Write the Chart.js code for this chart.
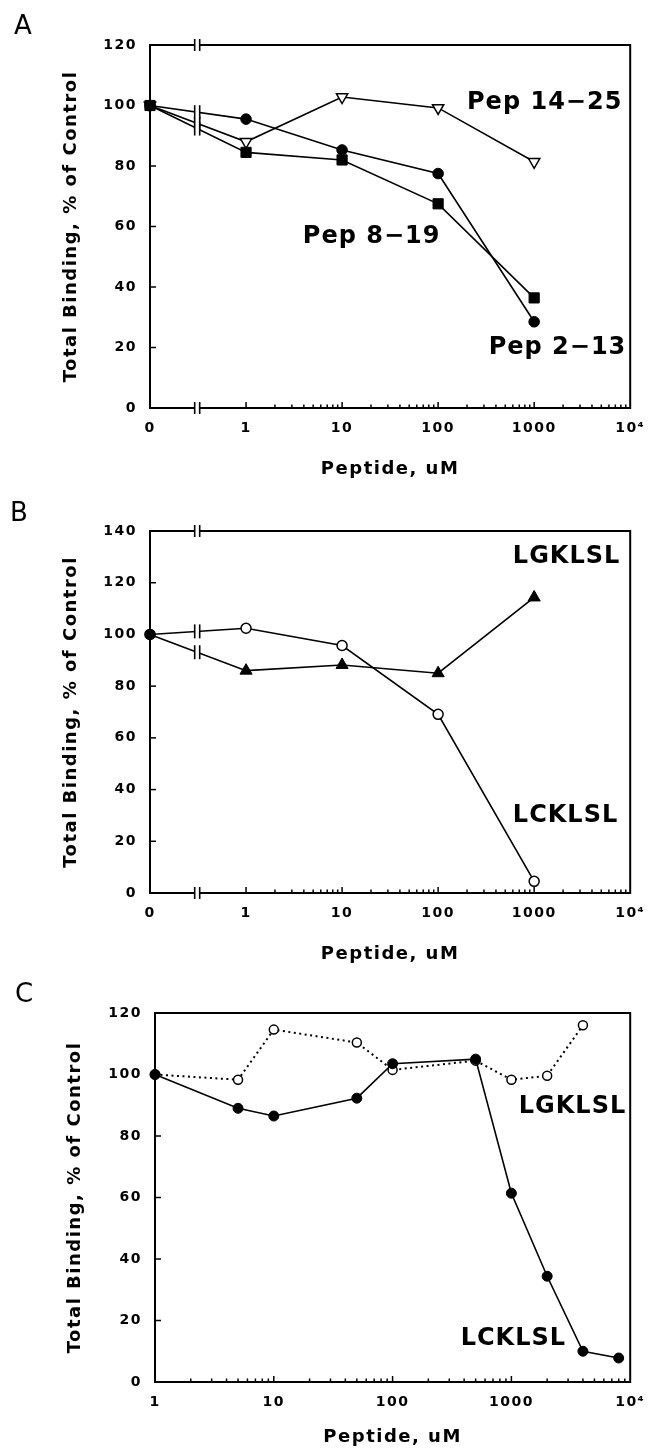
<!DOCTYPE html>
<html>
<head>
<meta charset="utf-8">
<script src="https://cdn.jsdelivr.net/npm/chart.js@4.4.1/dist/chart.umd.min.js"></script>
<style>
  html, body { margin: 0; padding: 0; background: #fff; }
  body { width: 655px; height: 1455px; position: relative; overflow: hidden; }
  .panel { position: absolute; left: 0; width: 655px; height: 485px; }
  #panelA { top: 0; }
  #panelB { top: 485px; }
  #panelC { top: 970px; }
</style>
</head>
<body>
<div class="panel" id="panelA"><canvas id="chartA"></canvas></div>
<div class="panel" id="panelB"><canvas id="chartB"></canvas></div>
<div class="panel" id="panelC"><canvas id="chartC"></canvas></div>
<script>
// --- datos ---
// Panel A / B: dosis (uM); el 0 se dibuja en el tramo cortado del eje log
const dosesAB = [0, 1, 10, 100, 1000];
const pep213 = [100, 95.5, 85.3, 77.5, 28.5];
const pep819 = [100, 84.5, 82, 67.5, 36.4];
const pep1425 = [100, 88, 102.8, 99.2, 81.4];

const lcklslB = [100, 102.4, 95.7, 69.1, 4.5];
const lgklslB = [100, 86, 88.2, 85, 114.3];

// Panel C
const dosesC = [1, 5, 10, 50, 100, 500, 1000, 2000, 4000, 8000];
const lcklslC = [100, 89, 86.5, 92.3, 103.5, 105, 61.4, 34.4, 10, 7.8];
const dosesLgC = [1, 5, 10, 50, 100, 500, 1000, 2000, 4000];
const lgklslC = [100, 98.3, 114.6, 110.4, 101.5, 104.5, 98.3, 99.6, 116];

// ticks
const xTicksAB = [0, 1, 10, 100, 1000, 10000];
const xTickLabelsAB = ['0', '1', '10', '100', '1000', '10⁴'];
const xTicksC = [1, 10, 100, 1000, 10000];
const xTickLabelsC = ['1', '10', '100', '1000', '10⁴'];

const ZERO_POS = 0.1;   // donde cae el "0" en el eje log
const BREAK_AT = 0.31;  // posicion de la marca de corte ||

const toX = d => (d === 0 ? ZERO_POS : d);
const pts = (xs, ys) => xs.map((d, i) => ({ x: toX(d), y: ys[i] }));

const tickFont = { family: '"DejaVu Sans"', size: 14, weight: 'bold' };
const titleFont = { family: '"DejaVu Sans"', size: 18, weight: 'bold', lineHeight: 1.2 };

function line(ctx, x1, y1, x2, y2) {
    ctx.beginPath();
    ctx.moveTo(x1, y1);
    ctx.lineTo(x2, y2);
    ctx.stroke();
}

// marca de corte "||" con hueco blanco en medio
function drawBreak(ctx, px, py, half) {
    ctx.fillStyle = '#fff';
    ctx.fillRect(px - 2.2, py - half, 4.4, half * 2);
    ctx.lineWidth = 1.6;
    line(ctx, px - 2.5, py - half, px - 2.5, py + half);
    line(ctx, px + 2.5, py - half, px + 2.5, py + half);
}

const framePlugin = {
    id: 'frame',
    beforeDraw(chart) {
        chart.ctx.letterSpacing = '1.5px';
    },
    beforeDatasetsDraw(chart, args, opts) {
        const { ctx, chartArea: a, scales: { x, y } } = chart;
        ctx.save();
        ctx.strokeStyle = '#000';
        ctx.lineWidth = 2;
        ctx.strokeRect(a.left, a.top, a.right - a.left, a.bottom - a.top);
        // ticks hacia dentro en el eje y
        ctx.lineWidth = 1.5;
        y.ticks.forEach(t => {
            const py = y.getPixelForValue(t.value);
            line(ctx, a.left, py, a.left + 6, py);
        });
        // ticks mayores y menores del eje log
        for (let dec = 1; dec < x.max; dec *= 10) {
            for (let m = 1; m < 10; m++) {
                const px = x.getPixelForValue(dec * m);
                line(ctx, px, a.bottom, px, a.bottom - (m === 1 ? 6 : 3.5));
            }
        }
        ctx.restore();
    },
    afterDatasetsDraw(chart, args, opts) {
        const { ctx, chartArea: a, scales: { x, y } } = chart;
        ctx.save();
        ctx.strokeStyle = '#000';
        ctx.letterSpacing = '0px';
        if (opts.axisBreak) {
            const bx = x.getPixelForValue(BREAK_AT);
            // corte sobre cada linea de datos entre 0 y 1
            chart.data.datasets.forEach((ds, i) => {
                const els = chart.getDatasetMeta(i).data;
                const p0 = els[0], p1 = els[1];
                const t = (bx - p0.x) / (p1.x - p0.x);
                drawBreak(ctx, bx, p0.y + t * (p1.y - p0.y), 7);
            });
            drawBreak(ctx, bx, a.top, 6);
            drawBreak(ctx, bx, a.bottom, 6);
        }
        // rotulos de las series
        ctx.fillStyle = '#000';
        ctx.textBaseline = 'middle';
        ctx.textAlign = 'left';
        ctx.letterSpacing = '1px';
        ctx.font = 'bold 24px "DejaVu Sans"';
        (opts.labels || []).forEach(l => {
            ctx.fillText(l.text, x.getPixelForValue(l.x), y.getPixelForValue(l.y));
        });
        // letra del panel
        ctx.letterSpacing = '0px';
        ctx.textBaseline = 'alphabetic';
        ctx.font = '26px "DejaVu Sans"';
        ctx.fillText(opts.letter, opts.letterX, opts.letterY);
        ctx.restore();
    }
};

function makeScales(xMin, xTicks, xLabels, yMax, yWidth, xHeight) {
    return {
        x: {
            type: 'logarithmic',
            min: xMin,
            max: 10000,
            afterBuildTicks: s => { s.ticks = xTicks.map(v => ({ value: toX(v) })); },
            afterFit: s => { s.height = xHeight; },
            grid: { display: false, drawTicks: false },
            border: { display: false },
            ticks: {
                callback: (v, i) => xLabels[i],
                font: tickFont, color: '#000', padding: 12,
                maxRotation: 0, autoSkip: false
            },
            title: { display: true, text: 'Peptide, uM', font: titleFont, color: '#000', padding: { top: 4, bottom: 4 } }
        },
        y: {
            min: 0,
            max: yMax,
            afterFit: s => { s.width = yWidth; },
            grid: { display: false, drawTicks: false },
            border: { display: false },
            ticks: { stepSize: 20, font: tickFont, color: '#000', padding: 13 },
            title: { display: true, text: 'Total Binding, % of Control', font: titleFont, color: '#000', padding: { top: 4, bottom: 4 } }
        }
    };
}

const baseOptions = (padding, scales, frame) => ({
    responsive: true,
    maintainAspectRatio: false,
    animation: false,
    layout: { padding: padding },
    plugins: { legend: { display: false }, tooltip: { enabled: false }, frame: frame },
    scales: scales,
    elements: { line: { tension: 0 } }
});

// ---------- Panel A ----------
new Chart(document.getElementById('chartA'), {
    type: 'line',
    data: {
        datasets: [
            {
                label: 'Pep 8-19', data: pts(dosesAB, pep819), clip: false,
                borderColor: '#000', borderWidth: 1.6,
                pointStyle: 'rect', pointRadius: 7.2, pointBackgroundColor: '#000', pointBorderColor: '#000', pointBorderWidth: 1
            },
            {
                label: 'Pep 2-13', data: pts(dosesAB, pep213), clip: false,
                borderColor: '#000', borderWidth: 1.6,
                pointStyle: 'circle', pointRadius: 5.3, pointBackgroundColor: '#000', pointBorderColor: '#000', pointBorderWidth: 1
            },
            {
                label: 'Pep 14-25', data: pts(dosesAB, pep1425), clip: false,
                borderColor: '#000', borderWidth: 1.6,
                pointStyle: 'triangle', pointRotation: 180, pointRadius: 6.5,
                pointBackgroundColor: '#fff', pointBorderColor: '#000', pointBorderWidth: 1.5
            }
        ]
    },
    options: baseOptions(
        { left: 57, right: 23, top: 45, bottom: 1 },
        makeScales(ZERO_POS, xTicksAB, xTickLabelsAB, 120, 93, 76),
        {
            axisBreak: true, letter: 'A', letterX: 14, letterY: 34,
            labels: [
                { text: 'Pep 14−25', x: 200, y: 101 },
                { text: 'Pep 8−19', x: 3.9, y: 56.5 },
                { text: 'Pep 2−13', x: 336, y: 19.8 }
            ]
        }
    ),
    plugins: [framePlugin]
});

// ---------- Panel B ----------
new Chart(document.getElementById('chartB'), {
    type: 'line',
    data: {
        datasets: [
            {
                label: 'LCKLSL', data: pts(dosesAB, lcklslB), clip: false,
                borderColor: '#000', borderWidth: 1.6,
                pointStyle: 'circle', pointRadius: 5,
                pointBackgroundColor: ['#000', '#fff', '#fff', '#fff', '#fff'],
                pointBorderColor: '#000', pointBorderWidth: 1.5
            },
            {
                label: 'LGKLSL', data: pts(dosesAB, lgklslB), clip: false,
                borderColor: '#000', borderWidth: 1.6,
                pointStyle: ['circle', 'triangle', 'triangle', 'triangle', 'triangle'],
                pointRadius: [5, 7, 7, 7, 7],
                pointBackgroundColor: '#000', pointBorderColor: '#000', pointBorderWidth: 1
            }
        ]
    },
    options: baseOptions(
        { left: 57, right: 22, top: 46, bottom: 1 },
        makeScales(ZERO_POS, xTicksAB, xTickLabelsAB, 140, 93, 76),
        {
            axisBreak: true, letter: 'B', letterX: 10, letterY: 36,
            labels: [
                { text: 'LGKLSL', x: 600, y: 130 },
                { text: 'LCKLSL', x: 600, y: 29.8 }
            ]
        }
    ),
    plugins: [framePlugin]
});

// ---------- Panel C ----------
new Chart(document.getElementById('chartC'), {
    type: 'line',
    data: {
        datasets: [
            {
                label: 'LCKLSL', data: pts(dosesC, lcklslC), clip: false,
                borderColor: '#000', borderWidth: 1.6,
                pointStyle: 'circle', pointRadius: 5, pointBackgroundColor: '#000', pointBorderColor: '#000', pointBorderWidth: 1
            },
            {
                label: 'LGKLSL', data: pts(dosesLgC, lgklslC), clip: false,
                borderColor: '#000', borderWidth: 2, borderDash: [2, 3.5],
                pointStyle: 'circle', pointRadius: 4.5, pointBackgroundColor: '#fff', pointBorderColor: '#000', pointBorderWidth: 1.5
            }
        ]
    },
    options: baseOptions(
        { left: 61, right: 18, top: 43, bottom: 3 },
        makeScales(1, xTicksC, xTickLabelsC, 120, 94, 70),
        {
            axisBreak: false, letter: 'C', letterX: 15, letterY: 32,
            labels: [
                { text: 'LGKLSL', x: 1154, y: 89.5 },
                { text: 'LCKLSL', x: 374, y: 14.2 }
            ]
        }
    ),
    plugins: [framePlugin]
});
</script>
</body>
</html>
